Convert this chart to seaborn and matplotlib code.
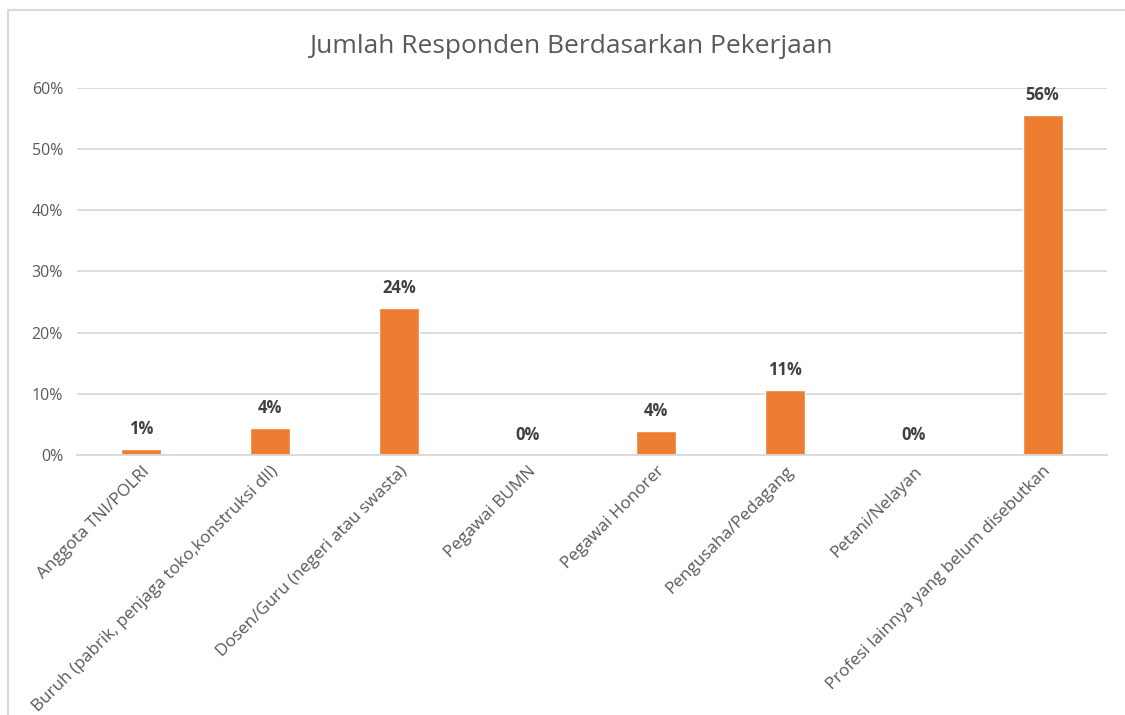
import matplotlib.pyplot as plt
import pandas as pd
import seaborn as sns
from matplotlib.ticker import PercentFormatter
from matplotlib.patches import Rectangle

# Data
pekerjaan = [
    'Anggota TNI/POLRI',
    'Buruh (pabrik, penjaga toko,konstruksi dll)',
    'Dosen/Guru (negeri atau swasta)',
    'Pegawai BUMN',
    'Pegawai Honorer',
    'Pengusaha/Pedagang',
    'Petani/Nelayan',
    'Profesi lainnya yang belum disebutkan',
]
persen = [0.010, 0.044, 0.240, 0.0, 0.039, 0.106, 0.0, 0.556]
label_persen = ['1%', '4%', '24%', '0%', '4%', '11%', '0%', '56%']

df = pd.DataFrame({'pekerjaan': pekerjaan, 'persen': persen})

sns.set_style('white')
plt.rcParams['font.family'] = ['Open Sans', 'DejaVu Sans']

fig = plt.figure(figsize=(11.25, 7.15), dpi=100)
ax = fig.add_axes([0.0684, 0.3636, 0.9156, 0.5134])

sns.barplot(data=df, x='pekerjaan', y='persen', color='#ED7D31',
            saturation=1, width=0.31, ax=ax)

ax.set_ylim(0, 0.6)
ax.set_yticks([0, 0.1, 0.2, 0.3, 0.4, 0.5, 0.6])
ax.yaxis.set_major_formatter(PercentFormatter(1.0, decimals=0))
ax.grid(axis='y', color='#D9D9D9', linewidth=1.3)
ax.set_axisbelow(True)
for s in ['top', 'right', 'left']:
    ax.spines[s].set_visible(False)
ax.spines['bottom'].set_color('#D9D9D9')
ax.spines['bottom'].set_linewidth(1.3)
ax.set_xlim(-0.5, len(pekerjaan) - 0.5)

ax.set_xlabel('')
ax.set_ylabel('')
ax.tick_params(axis='both', length=0, colors='#595959')
ax.tick_params(axis='y', pad=10, labelsize=11.5)
ax.tick_params(axis='x', pad=6, labelsize=12.3)
plt.setp(ax.get_xticklabels(), rotation=45, ha='right', rotation_mode='anchor')

ax.bar_label(ax.containers[0], labels=label_persen, padding=8,
             fontsize=12, fontweight='bold', color='#404040')

fig.text(0.507, 0.935, 'Jumlah Responden Berdasarkan Pekerjaan',
         ha='center', va='center', fontsize=19, color='#595959')

# chart border
fig.patches.append(Rectangle((0.007, -0.01), 1.0, 0.996, transform=fig.transFigure,
                             fill=False, edgecolor='#D9D9D9', linewidth=1.5))

fig.savefig('out.png', dpi=100)
